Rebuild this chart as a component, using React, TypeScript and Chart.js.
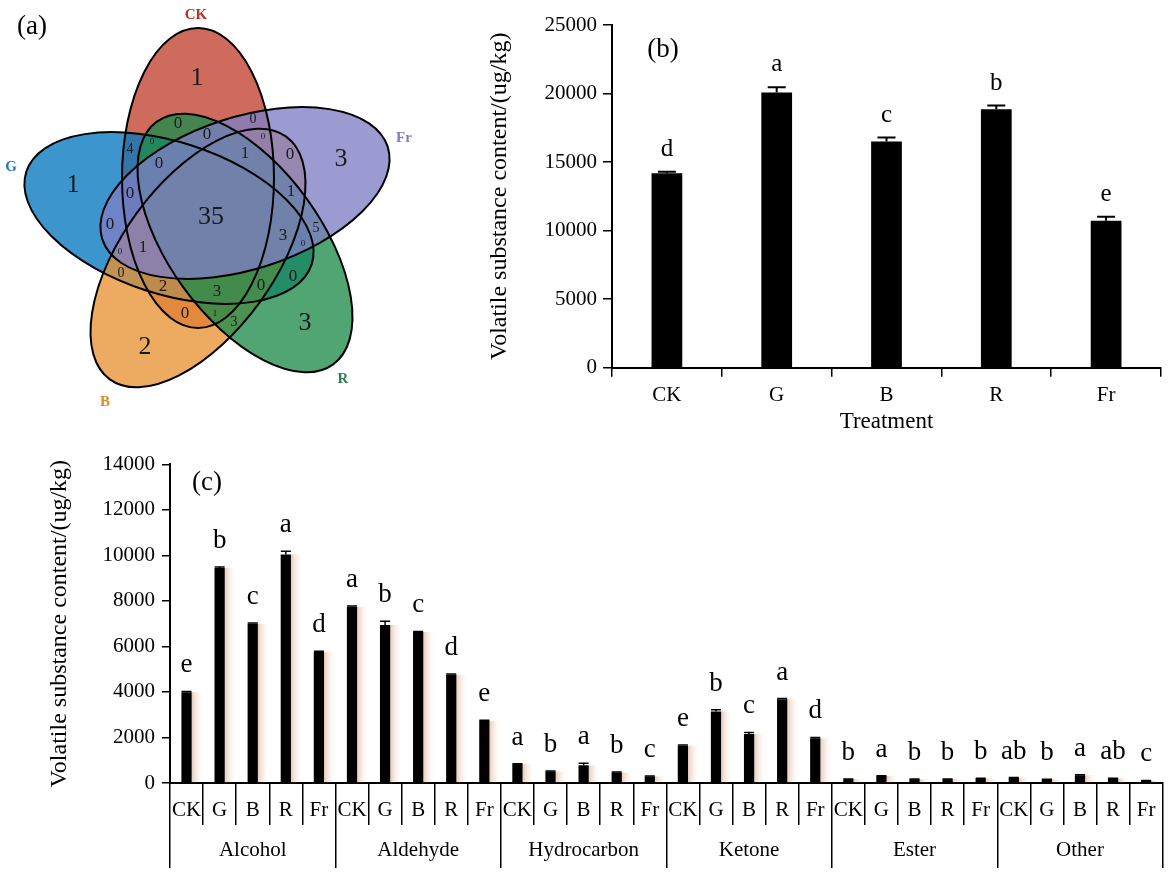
import React, { useEffect, useRef } from 'react';
import { Chart, registerables } from 'chart.js';

Chart.register(...registerables);

// ---------------- data ----------------
const treatments = ['CK', 'G', 'B', 'R', 'Fr'];

// (a) Venn diagram: set names and region counts
const vennSetNames = ['CK', 'Fr', 'R', 'B', 'G'];
const vennCounts = [1, 3, 3, 2, 1, 35, 0, 0, 0, 4, 0, 0, 1, 0, 0, 0, 1, 0, 5, 3, 0, 0, 1, 0, 0, 2, 3, 0, 0, 1, 3];

// (b) total volatile content
const totalContent = [14190, 20070, 16510, 18860, 10720];
const totalError = [100, 380, 280, 260, 290];
const totalLetters = ['d', 'a', 'c', 'b', 'e'];
const totalTicks = [0, 5000, 10000, 15000, 20000, 25000];

// (c) content by class
const classes = ['Alcohol', 'Aldehyde', 'Hydrocarbon', 'Ketone', 'Ester', 'Other'];
const alcohol = [3990, 9450, 7000, 10040, 5760];
const aldehyde = [7740, 6940, 6630, 4760, 2730];
const hydrocarbon = [830, 510, 780, 460, 290];
const ketone = [1640, 3140, 2150, 3680, 1970];
const ester = [170, 310, 170, 170, 200];
const other = [230, 160, 340, 200, 100];
const alcoholErr = [30, 40, 30, 140, 30];
const aldehydeErr = [30, 160, 30, 30, 30];
const hydrocarbonErr = [20, 20, 90, 20, 20];
const ketoneErr = [30, 80, 70, 30, 30];
const esterErr = [10, 10, 10, 10, 10];
const otherErr = [10, 10, 20, 10, 10];
const alcoholLetters = ['e', 'b', 'c', 'a', 'd'];
const aldehydeLetters = ['a', 'b', 'c', 'd', 'e'];
const hydrocarbonLetters = ['a', 'b', 'a', 'b', 'c'];
const ketoneLetters = ['e', 'b', 'c', 'a', 'd'];
const esterLetters = ['b', 'a', 'b', 'b', 'b'];
const otherLetters = ['ab', 'b', 'a', 'ab', 'c'];
const classTicks = [0, 2000, 4000, 6000, 8000, 10000, 12000, 14000];

// ---------------- layout / style ----------------
const SERIF = '"Liberation Serif", "Times New Roman", Times, serif';

const vennGeom: any = {
  CK: { cx: 198, cy: 178, rot: -90, fill: 'rgba(194,65,47,0.78)', text: '#B8322A', lx: 196, ly: 15 },
  Fr: { cx: 245, cy: 193, rot: -18, fill: 'rgba(127,127,197,0.78)', text: '#7F7BBE', lx: 404, ly: 138 },
  R: { cx: 245, cy: 243, rot: 54, fill: 'rgba(31,140,76,0.78)', text: '#2E7F50', lx: 343, ly: 379 },
  B: { cx: 198, cy: 258, rot: 126, fill: 'rgba(232,146,53,0.78)', text: '#E08A30', lx: 105, ly: 402 },
  G: { cx: 169, cy: 218, rot: -162, fill: 'rgba(5,120,191,0.78)', text: '#2A78BE', lx: 11, ly: 167 },
};
const vennDrawOrder = ['CK', 'G', 'B', 'R', 'Fr'];
const VENN_A = 150;
const VENN_B = 76;
// x, y, font size for each region count
const vennLabelLayout = [
  [197, 78, 26], [341, 159, 26], [305, 323, 26], [145, 347, 26], [73, 185, 26], [211, 217, 26],
  [178, 124, 17], [253, 119, 14], [207, 135, 17], [130, 149, 14], [152, 142, 9], [263, 137, 9],
  [245, 154, 17], [290, 155, 17], [159, 164, 17], [130, 194, 17], [291, 192, 17], [110, 225, 17],
  [316, 228, 14], [283, 236, 17], [303, 244, 9], [120, 252, 9], [143, 248, 17], [121, 273, 14],
  [293, 277, 17], [163, 287, 17], [217, 292, 17], [261, 286, 17], [185, 314, 17], [215, 314, 9],
  [234, 322, 14],
];

const vennPlugin = {
  id: 'venn',
  beforeDatasetsDraw(chart: any) {
    const { ctx, scales } = chart;
    const xs = scales.x;
    const ys = scales.y;
    const sx = xs.getPixelForValue(1) - xs.getPixelForValue(0);
    const sy = ys.getPixelForValue(1) - ys.getPixelForValue(0);
    ctx.save();
    const path = (g: any) => {
      ctx.beginPath();
      ctx.ellipse(xs.getPixelForValue(g.cx), ys.getPixelForValue(g.cy), VENN_A * sx, VENN_B * sy, (g.rot * Math.PI) / 180, 0, Math.PI * 2);
    };
    vennDrawOrder.forEach((n) => {
      const g = vennGeom[n];
      path(g);
      ctx.fillStyle = g.fill;
      ctx.fill();
    });
    ctx.lineWidth = 2;
    ctx.strokeStyle = '#000';
    vennDrawOrder.forEach((n) => {
      path(vennGeom[n]);
      ctx.stroke();
    });
    ctx.restore();
  },
  afterDatasetsDraw(chart: any) {
    const { ctx, scales } = chart;
    const meta = chart.getDatasetMeta(0);
    ctx.save();
    ctx.textAlign = 'center';
    ctx.textBaseline = 'middle';
    ctx.fillStyle = '#1a1a1a';
    meta.data.forEach((pt: any, i: number) => {
      ctx.font = `${vennLabelLayout[i][2]}px ${SERIF}`;
      ctx.fillText(String(vennCounts[i]), pt.x, pt.y);
    });
    vennSetNames.forEach((n) => {
      const g = vennGeom[n];
      ctx.font = `bold 15px ${SERIF}`;
      ctx.fillStyle = g.text;
      ctx.fillText(n, scales.x.getPixelForValue(g.lx), scales.y.getPixelForValue(g.ly));
    });
    ctx.fillStyle = '#000';
    ctx.font = `27px ${SERIF}`;
    ctx.fillText('(a)', scales.x.getPixelForValue(32), scales.y.getPixelForValue(27));
    ctx.restore();
  },
};

function barDecor(errors: number[], letters: string[], o: any) {
  return {
    id: 'barDecor',
    beforeDatasetsDraw(chart: any) {
      if (!o.shadow) return;
      const { ctx } = chart;
      const meta = chart.getDatasetMeta(0);
      ctx.save();
      meta.data.forEach((bar: any) => {
        const p = bar.getProps(['x', 'y', 'base', 'width'], true);
        const x0 = p.x + p.width / 2;
        const g = ctx.createLinearGradient(x0, 0, x0 + o.shadow, 0);
        g.addColorStop(0, 'rgba(215,160,125,0.55)');
        g.addColorStop(1, 'rgba(255,255,255,0)');
        ctx.fillStyle = g;
        ctx.fillRect(x0, p.y, o.shadow, p.base - p.y);
      });
      ctx.restore();
    },
    afterDatasetsDraw(chart: any) {
      const { ctx } = chart;
      const ys = chart.scales.y;
      const meta = chart.getDatasetMeta(0);
      const vals = chart.data.datasets[0].data;
      ctx.save();
      ctx.strokeStyle = '#000';
      ctx.lineWidth = o.lineWidth;
      ctx.fillStyle = '#000';
      ctx.textAlign = 'center';
      ctx.textBaseline = 'alphabetic';
      ctx.font = `${o.fontSize}px ${SERIF}`;
      meta.data.forEach((bar: any, i: number) => {
        const p = bar.getProps(['x', 'y'], true);
        const top = ys.getPixelForValue(vals[i] + errors[i]);
        ctx.beginPath();
        ctx.moveTo(p.x, p.y);
        ctx.lineTo(p.x, top);
        ctx.moveTo(p.x - o.cap, top);
        ctx.lineTo(p.x + o.cap, top);
        ctx.stroke();
        ctx.fillText(letters[i], p.x, top - o.gap);
      });
      ctx.font = `27px ${SERIF}`;
      ctx.textBaseline = 'middle';
      ctx.fillText(o.panel, o.panelX, o.panelY);
      ctx.restore();
    },
  };
}

const axisFont = { family: SERIF, size: 21 };
const titleText = 'Volatile substance content/(ug/kg)';

export default function App() {
  const refA = useRef<HTMLCanvasElement>(null);
  const refB = useRef<HTMLCanvasElement>(null);
  const refC = useRef<HTMLCanvasElement>(null);

  useEffect(() => {
    const charts: any[] = [];

    charts.push(
      new Chart(refA.current as HTMLCanvasElement, {
        type: 'scatter',
        data: {
          datasets: [
            {
              data: vennLabelLayout.map((p) => ({ x: p[0], y: p[1] })),
              pointRadius: 0,
              pointHoverRadius: 0,
            },
          ],
        },
        options: {
          animation: false,
          responsive: false,
          events: [],
          layout: { padding: 0 },
          plugins: { legend: { display: false }, tooltip: { enabled: false } },
          scales: {
            x: { type: 'linear', min: 0, max: 440, display: false },
            y: { type: 'linear', min: 0, max: 420, reverse: true, display: false },
          },
        } as any,
        plugins: [vennPlugin as any],
      })
    );

    charts.push(
      new Chart(refB.current as HTMLCanvasElement, {
        type: 'bar',
        data: {
          labels: treatments,
          datasets: [
            {
              data: totalContent,
              backgroundColor: '#000',
              borderWidth: 0,
              barPercentage: 0.28,
              categoryPercentage: 1,
            },
          ],
        },
        options: {
          animation: false,
          responsive: false,
          events: [],
          layout: { padding: { left: 0, right: 9, top: 25, bottom: 0 } },
          plugins: { legend: { display: false }, tooltip: { enabled: false } },
          scales: {
            x: {
              type: 'category',
              offset: true,
              grid: { offset: true, drawOnChartArea: false, drawTicks: true, tickLength: 9, color: '#000', lineWidth: 1.5 },
              border: { display: true, color: '#000', width: 2 },
              ticks: { color: '#000', font: axisFont, padding: 5.7, autoSkip: false, maxRotation: 0, minRotation: 0 },
              title: { display: true, text: 'Treatment', color: '#000', font: { family: SERIF, size: 23 }, padding: { top: 0, bottom: 4 } },
              afterFit: (s: any) => {
                s.height = 72.3;
              },
            },
            y: {
              type: 'linear',
              min: totalTicks[0],
              max: totalTicks[totalTicks.length - 1],
              afterBuildTicks: (s: any) => {
                s.ticks = totalTicks.map((v) => ({ value: v }));
              },
              grid: { drawOnChartArea: false, drawTicks: true, tickLength: 9, color: '#000', lineWidth: 1.5 },
              border: { display: true, color: '#000', width: 2 },
              ticks: { color: '#000', font: axisFont, padding: 6, callback: (v: any) => String(v) },
              title: { display: true, text: titleText, color: '#000', font: { family: SERIF, size: 24 }, padding: { top: 45.6, bottom: 0 } },
              afterFit: (s: any) => {
                s.width = 172;
              },
            },
          },
        } as any,
        plugins: [
          barDecor(totalError, totalLetters, { lineWidth: 2, cap: 9, gap: 16, fontSize: 25, panel: '(b)', panelX: 223, panelY: 50 }) as any,
        ],
      })
    );

    const classValues = [...alcohol, ...aldehyde, ...hydrocarbon, ...ketone, ...ester, ...other];
    const classErrors = [...alcoholErr, ...aldehydeErr, ...hydrocarbonErr, ...ketoneErr, ...esterErr, ...otherErr];
    const classLetters = [
      ...alcoholLetters,
      ...aldehydeLetters,
      ...hydrocarbonLetters,
      ...ketoneLetters,
      ...esterLetters,
      ...otherLetters,
    ];
    const classLabels = classes.flatMap(() => treatments);

    charts.push(
      new Chart(refC.current as HTMLCanvasElement, {
        type: 'bar',
        data: {
          labels: classLabels,
          datasets: [
            {
              data: classValues,
              backgroundColor: '#000',
              borderWidth: 0,
              barPercentage: 0.31,
              categoryPercentage: 1,
            },
          ],
        },
        options: {
          animation: false,
          responsive: false,
          events: [],
          layout: { padding: { left: 0, right: 7.3, top: 24.3, bottom: 0 } },
          plugins: { legend: { display: false }, tooltip: { enabled: false } },
          scales: {
            x: {
              type: 'category',
              position: 'bottom',
              weight: 0,
              offset: true,
              grid: { offset: true, drawOnChartArea: false, drawTicks: true, tickLength: 42, color: '#000', lineWidth: 1.5 },
              border: { display: true, color: '#000', width: 2 },
              ticks: { color: '#000', font: axisFont, padding: -27.6, autoSkip: false, maxRotation: 0, minRotation: 0 },
              afterFit: (s: any) => {
                s.height = 42;
              },
            },
            x2: {
              type: 'category',
              position: 'bottom',
              weight: 1,
              labels: classes,
              offset: true,
              grid: { offset: true, drawOnChartArea: false, drawTicks: true, tickLength: 43, color: '#000', lineWidth: 1.5 },
              border: { display: false },
              ticks: { color: '#000', font: axisFont, padding: -30.6, autoSkip: false, maxRotation: 0, minRotation: 0 },
              afterFit: (s: any) => {
                s.height = 52;
              },
            },
            y: {
              type: 'linear',
              min: classTicks[0],
              max: classTicks[classTicks.length - 1],
              afterBuildTicks: (s: any) => {
                s.ticks = classTicks.map((v) => ({ value: v }));
              },
              grid: { drawOnChartArea: false, drawTicks: true, tickLength: 8, color: '#000', lineWidth: 1.5 },
              border: { display: true, color: '#000', width: 2 },
              ticks: { color: '#000', font: axisFont, padding: 7, callback: (v: any) => String(v) },
              title: { display: true, text: titleText, color: '#000', font: { family: SERIF, size: 24 }, padding: { top: 45.6, bottom: 0 } },
              afterFit: (s: any) => {
                s.width = 170;
              },
            },
          },
        } as any,
        plugins: [
          barDecor(classErrors, classLetters, {
            lineWidth: 1.5,
            cap: 5,
            gap: 19,
            fontSize: 27,
            shadow: 12,
            panel: '(c)',
            panelX: 207,
            panelY: 43,
          }) as any,
        ],
      })
    );

    return () => charts.forEach((c) => c.destroy());
  }, []);

  return (
    <div style={{ position: 'absolute', left: 0, top: 0, width: 1170, height: 877, background: '#fff', overflow: 'hidden' }}>
      <canvas ref={refA} width={440} height={420} style={{ position: 'absolute', left: 0, top: 0, width: 440, height: 420 }} />
      <canvas ref={refB} width={730} height={440} style={{ position: 'absolute', left: 440, top: 0, width: 730, height: 440 }} />
      <canvas ref={refC} width={1170} height={437} style={{ position: 'absolute', left: 0, top: 440, width: 1170, height: 437 }} />
    </div>
  );
}
